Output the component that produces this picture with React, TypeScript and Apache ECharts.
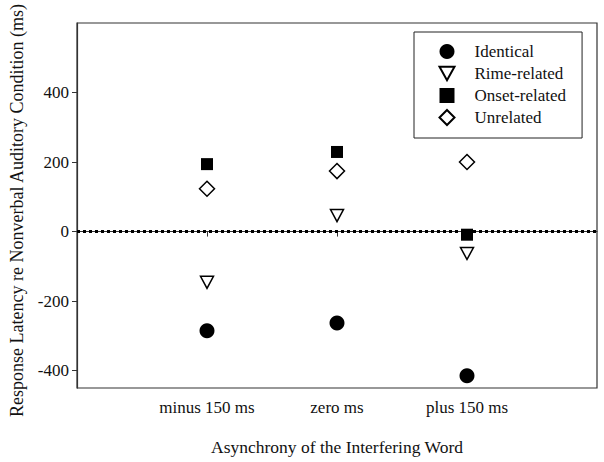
import React, { useEffect, useRef } from "react";
import * as echarts from "echarts";

const categories = ["minus 150 ms", "zero ms", "plus 150 ms"];
const categoryPositions = [1, 2, 3];
const identical = [-285, -263, -415];
const rimeRelated = [-146, 46, -63];
const onsetRelated = [194, 229, -9];
const unrelated = [123, 174, 200];
const yTicks = [-400, -200, 0, 200, 400];

const FONT = "Liberation Serif";
const DOWN_TRIANGLE = "path://M0,0L10,0L5,9Z";

export default function App() {
  const ref = useRef<HTMLDivElement>(null);
  useEffect(() => {
    if (!ref.current) return;
    const chart = echarts.init(ref.current, null, { renderer: "svg" });
    const toPts = (vals: number[]) => vals.map((v, i) => [categoryPositions[i], v]);
    const txt = { fontFamily: FONT, fontSize: 17, color: "#111" };
    chart.setOption({
      animation: false,
      backgroundColor: "#fff",
      textStyle: { fontFamily: FONT },
      grid: {
        left: 74,
        top: 23,
        width: 523,
        height: 365,
        show: true,
        borderColor: "#333",
        borderWidth: 1.2,
        containLabel: false,
      },
      legend: {
        orient: "vertical",
        left: 414,
        top: 32,
        itemWidth: 15,
        itemHeight: 15,
        itemGap: 5,
        padding: [11, 16, 12, 24.5],
        borderColor: "#222",
        borderWidth: 1,
        backgroundColor: "#fff",
        textStyle: { ...txt, padding: [0, 0, 0, 15] },
        data: [
          { name: "Identical" },
          { name: "Rime-related", icon: DOWN_TRIANGLE },
          { name: "Onset-related" },
          { name: "Unrelated" },
        ],
      },
      xAxis: {
        type: "value",
        min: 0,
        max: 4,
        name: "Asynchrony of the Interfering Word",
        nameLocation: "middle",
        nameGap: 50,
        nameTextStyle: { ...txt, fontSize: 17.5 },
        splitLine: { show: false },
        axisLine: { show: true, lineStyle: { color: "#333", width: 1.2 } },
        axisTick: {
          show: true,
          length: 5,
          customValues: categoryPositions,
          lineStyle: { color: "#333" },
        },
        axisLabel: {
          ...txt,
          margin: 11,
          customValues: categoryPositions,
          formatter: (v: number) => categories[categoryPositions.indexOf(v)] ?? "",
        },
      },
      yAxis: {
        type: "value",
        min: -450,
        max: 600,
        name: "Response Latency re Nonverbal Auditory Condition (ms)",
        nameLocation: "middle",
        nameGap: 51,
        nameTextStyle: { ...txt, fontSize: 18, padding: [0, 10, 0, 0] },
        splitLine: { show: false },
        axisLine: { show: true, lineStyle: { color: "#333", width: 1.2 } },
        axisTick: {
          show: true,
          length: 5,
          customValues: yTicks,
          lineStyle: { color: "#333" },
        },
        axisLabel: { ...txt, margin: 8, customValues: yTicks },
      },
      series: [
        {
          name: "zero",
          type: "line",
          data: [
            [0, 0],
            [4, 0],
          ],
          symbol: "none",
          silent: true,
          lineStyle: { color: "#000", width: 3, type: "dotted" },
          z: 1,
        },
        {
          name: "Identical",
          type: "scatter",
          symbol: "circle",
          symbolSize: 15,
          itemStyle: { color: "#000", opacity: 1 },
          data: toPts(identical),
          z: 3,
        },
        {
          name: "Rime-related",
          type: "scatter",
          symbol: DOWN_TRIANGLE,
          symbolSize: [13, 12],
          itemStyle: { color: "#fff", borderColor: "#000", borderWidth: 1.5, opacity: 1 },
          data: toPts(rimeRelated),
          z: 3,
        },
        {
          name: "Onset-related",
          type: "scatter",
          symbol: "rect",
          symbolSize: 12,
          itemStyle: { color: "#000", opacity: 1 },
          data: toPts(onsetRelated),
          z: 3,
        },
        {
          name: "Unrelated",
          type: "scatter",
          symbol: "diamond",
          symbolSize: 15,
          itemStyle: { color: "#fff", borderColor: "#000", borderWidth: 1.5, opacity: 1 },
          data: toPts(unrelated),
          z: 3,
        },
      ],
    });
    return () => chart.dispose();
  }, []);
  return (
    <div
      ref={ref}
      style={{ position: "fixed", left: 0, top: 0, width: 604, height: 462 }}
    />
  );
}
